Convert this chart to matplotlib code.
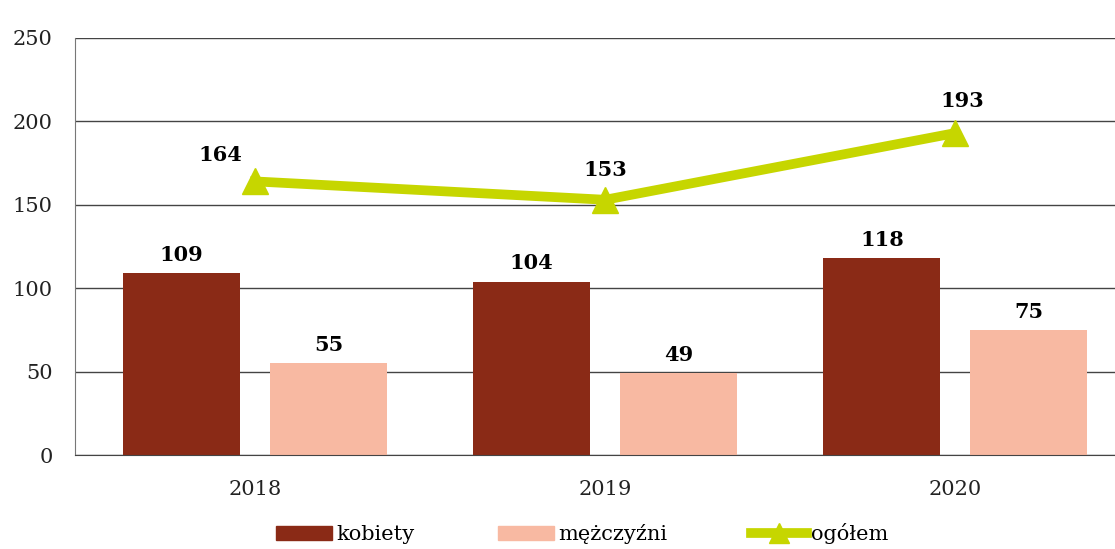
import numpy as np
import matplotlib.pyplot as plt
from matplotlib.lines import Line2D
from matplotlib.patches import Patch

years = ["2018", "2019", "2020"]
kobiety = [109, 104, 118]
mezczyzni = [55, 49, 75]
ogolem = [164, 153, 193]

DARK = "#8a2a16"
LIGHT = "#f8b9a2"
GREEN = "#c6d600"
SERIF = ["DejaVu Serif"]

fig = plt.figure(figsize=(11.15, 5.49), dpi=100)
# axes run past the right edge of the figure on purpose
ax = fig.add_axes([0.0673, 0.171, 0.951, 0.760])

x = np.arange(len(years))
w = 0.334
off = 0.21

ax.bar(x - off, kobiety, w, color=DARK, zorder=2)
ax.bar(x + off, mezczyzni, w, color=LIGHT, zorder=2)
ax.plot(x, ogolem, color=GREEN, lw=7, marker="^", ms=19, zorder=3)

for xi, v in zip(x, kobiety):
    ax.annotate(str(v), (xi - off, v), xytext=(0, 6), textcoords="offset points",
                ha="center", va="bottom", fontsize=15, fontweight="bold", family=SERIF)
for xi, v in zip(x, mezczyzni):
    ax.annotate(str(v), (xi + off, v), xytext=(0, 6), textcoords="offset points",
                ha="center", va="bottom", fontsize=15, fontweight="bold", family=SERIF)
line_offsets = [(-25, 12), (0, 14), (5, 16)]
for xi, v, o in zip(x, ogolem, line_offsets):
    ax.annotate(str(v), (xi, v), xytext=o, textcoords="offset points",
                ha="center", va="bottom", fontsize=15, fontweight="bold", family=SERIF)

ax.set_ylim(0, 250)
ax.set_yticks(range(0, 251, 50))
ax.set_xlim(-0.514, 2.514)
ax.set_xticks(x)
ax.set_xticklabels(years)
ax.grid(axis="y", color="#444444", lw=1, zorder=0)
ax.set_axisbelow(True)
for s in ["top", "right"]:
    ax.spines[s].set_visible(False)
ax.spines["left"].set_color("#777777")
ax.spines["bottom"].set_color("#444444")
ax.tick_params(axis="both", length=0, labelsize=15)
ax.tick_params(axis="y", pad=16)
ax.tick_params(axis="x", pad=18)
for lab in ax.get_xticklabels() + ax.get_yticklabels():
    lab.set_family(SERIF)
    lab.set_color("#222222")

handles = [
    Patch(color=DARK, label="kobiety"),
    Patch(color=LIGHT, label="mężczyźni"),
    Line2D([], [], color=GREEN, lw=7, marker="^", ms=14, label="ogółem"),
]
fig.legend(handles=handles, loc="center", bbox_to_anchor=(0.522, 0.028), ncol=3,
           frameon=False, handlelength=2.7, handletextpad=0.2, columnspacing=4,
           prop={"family": SERIF, "size": 15})

fig.savefig("out.png", dpi=100)
